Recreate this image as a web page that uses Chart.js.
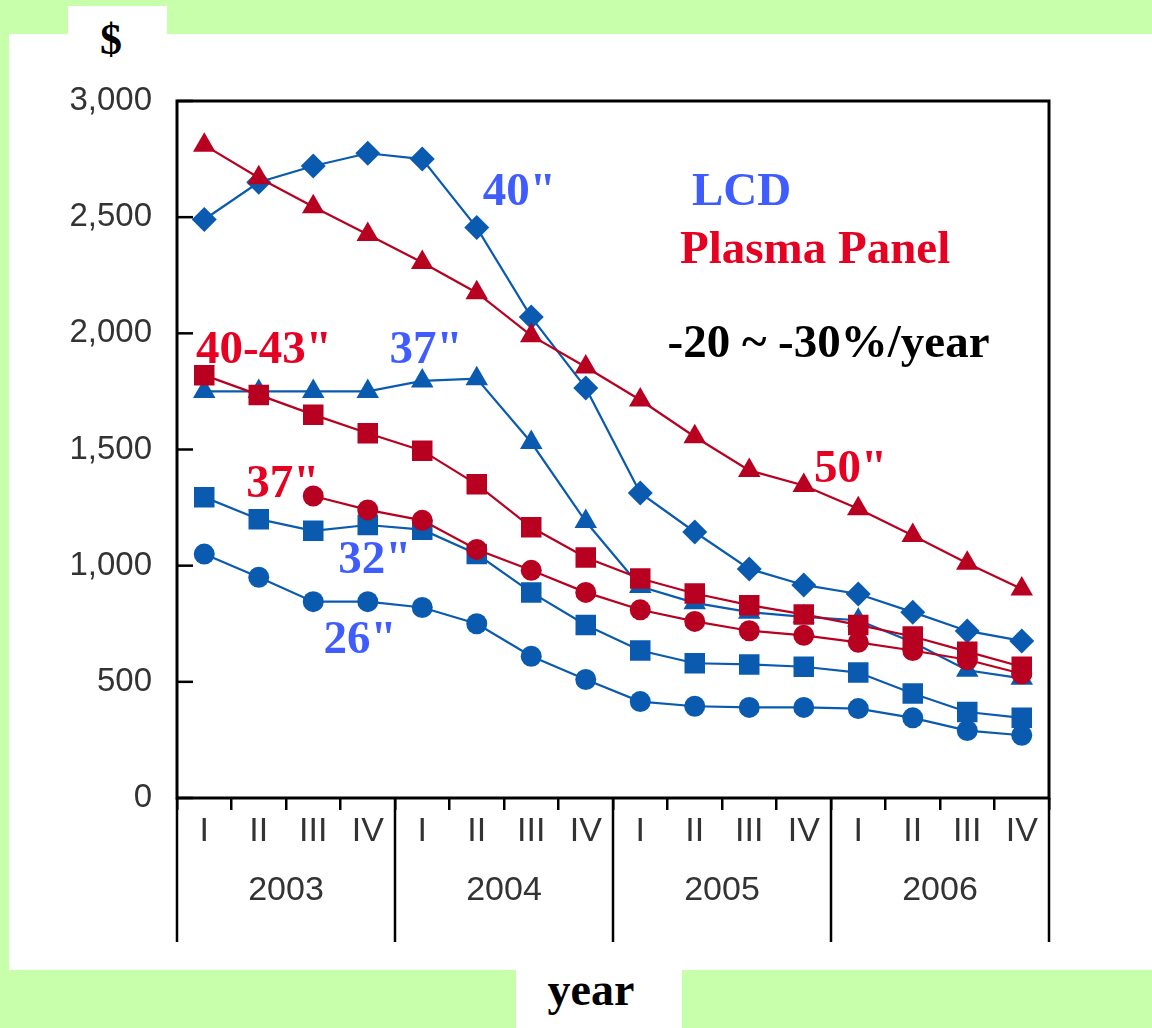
<!DOCTYPE html>
<html>
<head>
<meta charset="utf-8">
<script src="https://cdn.jsdelivr.net/npm/chart.js@4/dist/chart.umd.min.js"></script>
<style>
  body { margin: 0; width: 1152px; height: 1028px; overflow: hidden; position: relative; background: #c8ffaa; }
  .white { position: absolute; background: #fff; }
  .lbl { position: absolute; font-family: "Liberation Serif", serif; font-weight: bold; color: #000; }
  canvas { position: absolute; left: 0; top: 0; }
</style>
</head>
<body>
<div class="white" style="left:9px;top:34px;width:1143px;height:936px;"></div>
<div class="white" style="left:68px;top:6px;width:99px;height:30px;"></div>
<div class="white" style="left:516px;top:970px;width:166px;height:58px;"></div>
<div class="lbl" style="left:56px;width:110px;top:14px;text-align:center;font-size:44px;">$</div>
<div class="lbl" style="left:500px;width:182px;top:963px;text-align:center;font-size:46px;">year</div>
<canvas id="chart" width="1152" height="1028"></canvas>
<script>
// quarters x 4 years
const quarters = ['I', 'II', 'III', 'IV', 'I', 'II', 'III', 'IV', 'I', 'II', 'III', 'IV', 'I', 'II', 'III', 'IV']
const years = ['2003', '2004', '2005', '2006']

// LCD (blue)
const lcd40 = [2490, 2650, 2720, 2775, 2750, 2455, 2070, 1765, 1313, 1145, 986, 917, 878, 800, 719, 676]
const lcd37 = [1750, 1750, 1750, 1750, 1795, 1805, 1530, 1190, 910, 840, 800, 780, 765, 670, 550, 515]
const lcd32 = [1295, 1200, 1150, 1175, 1155, 1050, 885, 745, 635, 580, 575, 565, 540, 450, 370, 345]
const lcd26 = [1050, 950, 845, 845, 820, 750, 610, 510, 415, 395, 390, 390, 385, 345, 290, 270]

// Plasma (red)
const pdp50 = [2810, 2670, 2545, 2425, 2305, 2175, 1990, 1855, 1713, 1555, 1410, 1345, 1245, 1130, 1010, 900]
const pdp4043 = [1820, 1735, 1650, 1570, 1495, 1350, 1165, 1035, 945, 880, 830, 790, 745, 695, 630, 565]
const pdp37 = [null, null, 1300, 1240, 1195, 1070, 980, 885, 810, 760, 720, 700, 670, 635, 595, 535]

const yMin = 0
const yMax = 3000
const yStep = 500

const BLUE = '#0a5bb0'
const RED = '#b80020'
const TXT_BLUE = '#3f5cff'
const TXT_RED = '#e60022'

// text labels placed in data units: x = category index, y = value (baseline)
const notes = [
  { text: '40"', x: 5.11, y: 2552, color: TXT_BLUE },
  { text: 'LCD', x: 8.95, y: 2552, color: TXT_BLUE },
  { text: 'Plasma Panel', x: 8.73, y: 2303, color: TXT_RED },
  { text: '-20 ~ -30%/year', x: 8.5, y: 1898, color: '#000' },
  { text: '40-43"', x: -0.15, y: 1872, color: TXT_RED },
  { text: '37"', x: 3.4, y: 1872, color: TXT_BLUE },
  { text: '37"', x: 0.77, y: 1296, color: TXT_RED },
  { text: '32"', x: 2.46, y: 968, color: TXT_BLUE },
  { text: '26"', x: 2.19, y: 624, color: TXT_BLUE },
  { text: '50"', x: 11.19, y: 1360, color: TXT_RED },
]

function series(data, color, style, radius, order) {
  return {
    data: data,
    borderColor: color,
    backgroundColor: color,
    borderWidth: 2.2,
    pointStyle: style,
    pointRadius: radius,
    pointHoverRadius: radius,
    pointBorderWidth: 0,
    order: order,
  }
}

const framePlugin = {
  id: 'frame',
  afterDraw(chart) {
    const ctx = chart.ctx
    const area = chart.chartArea
    const xs = chart.scales.x
    const ys = chart.scales.y
    const half = (xs.getPixelForValue(1) - xs.getPixelForValue(0)) / 2

    ctx.save()
    ctx.strokeStyle = '#000'
    ctx.lineWidth = 3
    ctx.strokeRect(area.left, area.top, area.right - area.left, area.bottom - area.top)

    // y ticks point inward
    ctx.lineWidth = 2.5
    ys.ticks.forEach((t) => {
      const y = ys.getPixelForValue(t.value)
      ctx.beginPath()
      ctx.moveTo(area.left, y)
      ctx.lineTo(area.left + 16, y)
      ctx.stroke()
    })

    // year separators and labels
    ctx.font = '34px "Liberation Sans", Arial, sans-serif'
    ctx.fillStyle = '#333'
    ctx.textAlign = 'center'
    ctx.textBaseline = 'middle'
    for (let k = 0; k <= years.length; k++) {
      const x = k < years.length ? xs.getPixelForValue(k * 4) - half : area.right
      ctx.beginPath()
      ctx.moveTo(x, area.bottom)
      ctx.lineTo(x, area.bottom + 144)
      ctx.stroke()
      if (k < years.length) {
        const cx = (xs.getPixelForValue(k * 4) + xs.getPixelForValue(k * 4 + 3)) / 2
        ctx.fillText(years[k], cx, area.bottom + 93)
      }
    }

    // annotations
    ctx.font = 'bold 47px "Liberation Serif", "Times New Roman", serif'
    ctx.textAlign = 'left'
    ctx.textBaseline = 'alphabetic'
    notes.forEach((n) => {
      const px = xs.getPixelForValue(0) + n.x * half * 2
      ctx.fillStyle = n.color
      ctx.fillText(n.text, px, ys.getPixelForValue(n.y))
    })
    ctx.restore()
  },
}

new Chart(document.getElementById('chart'), {
  type: 'line',
  data: {
    labels: quarters,
    datasets: [
      series(lcd40, BLUE, 'rectRot', 12.5, 2),
      series(lcd37, BLUE, 'triangle', 13, 2),
      series(lcd32, BLUE, 'rect', 14.5, 2),
      series(lcd26, BLUE, 'circle', 10.5, 2),
      series(pdp50, RED, 'triangle', 13, 1),
      series(pdp4043, RED, 'rect', 14.5, 1),
      series(pdp37, RED, 'circle', 10.5, 1),
    ],
  },
  options: {
    responsive: false,
    animation: false,
    layout: { padding: { top: 101, right: 103, bottom: 0, left: 0 } },
    plugins: { legend: { display: false }, tooltip: { enabled: false } },
    scales: {
      x: {
        offset: true,
        afterFit: (scale) => { scale.height = 230 },
        border: { display: false },
        grid: { offset: true, drawOnChartArea: false, tickLength: 12, color: '#000', lineWidth: 2.5 },
        ticks: {
          autoSkip: false,
          maxRotation: 0,
          padding: 1,
          color: '#333',
          font: { family: '"Liberation Sans", Arial, sans-serif', size: 34 },
        },
      },
      y: {
        min: yMin,
        max: yMax,
        afterFit: (scale) => { scale.width = 177 },
        border: { display: false },
        grid: { display: false },
        ticks: {
          stepSize: yStep,
          padding: 17,
          color: '#333',
          font: { family: '"Liberation Sans", Arial, sans-serif', size: 33 },
          callback: (v) => v.toLocaleString('en-US'),
        },
      },
    },
  },
  plugins: [framePlugin],
})
</script>
</body>
</html>
